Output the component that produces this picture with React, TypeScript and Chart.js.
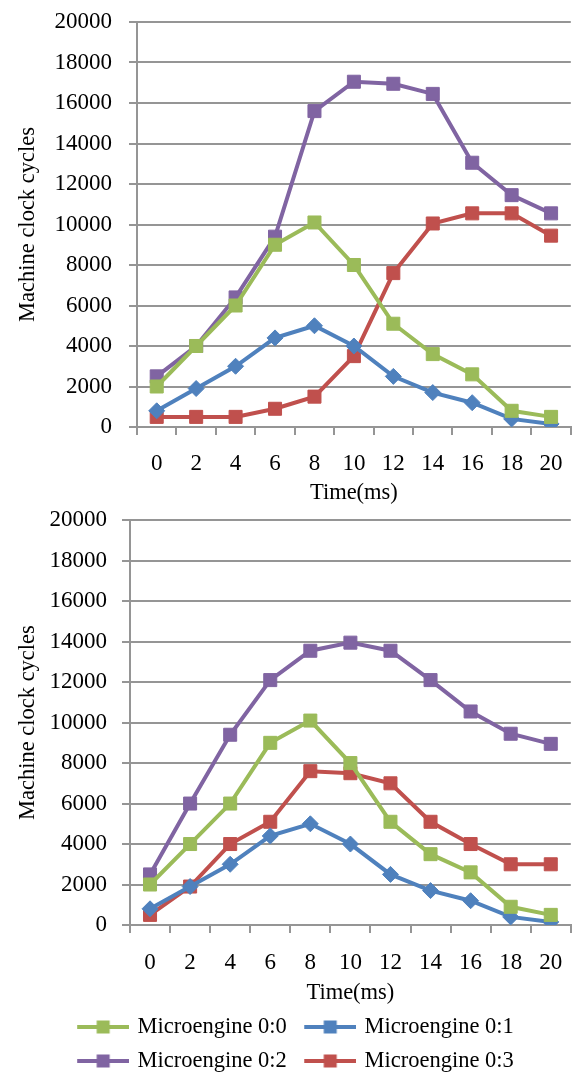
import React, { useEffect, useRef } from 'react';
import { Chart, registerables } from 'chart.js';

Chart.register(...registerables);

const FONT = '"Liberation Serif", "Times New Roman", serif';

// ---- data ----
const TIME_LABELS = ['0', '2', '4', '6', '8', '10', '12', '14', '16', '18', '20'];
const SERIES_NAMES = ['Microengine 0:0', 'Microengine 0:1', 'Microengine 0:2', 'Microengine 0:3'];
const X_TITLE = 'Time(ms)';
const Y_TITLE = 'Machine clock cycles';
const Y_MIN = 0;
const Y_MAX = 20000;
const Y_STEP = 2000;

// top chart
const TOP_ME00 = [2000, 4000, 6000, 9000, 10100, 8000, 5100, 3600, 2600, 800, 500];
const TOP_ME01 = [800, 1900, 3000, 4400, 5000, 4000, 2500, 1700, 1200, 400, 150];
const TOP_ME02 = [2500, 4000, 6400, 9400, 15600, 17050, 16950, 16450, 13050, 11450, 10550];
const TOP_ME03 = [500, 500, 500, 900, 1500, 3500, 7600, 10050, 10550, 10550, 9450];

// bottom chart
const BOT_ME00 = [2000, 4000, 6000, 9000, 10100, 8000, 5100, 3500, 2600, 900, 500];
const BOT_ME01 = [800, 1900, 3000, 4400, 5000, 4000, 2500, 1700, 1200, 400, 150];
const BOT_ME02 = [2500, 6000, 9400, 12100, 13550, 13950, 13550, 12100, 10550, 9450, 8950];
const BOT_ME03 = [500, 1900, 4000, 5100, 7600, 7500, 7000, 5100, 4000, 3000, 3000];

// ---- styles ----
const COLORS = ['#9BBB59', '#4F81BD', '#8064A2', '#C0504D'];
const POINT_STYLES = ['rect', 'rectRot', 'rect', 'rect'];
const POINT_RADII = [9.2, 8, 9.2, 9.2];
const GRID = '#959595';

function makeLegendIcon(color: string) {
  const c = document.createElement('canvas');
  c.width = 61;
  c.height = 16;
  const ctx = c.getContext('2d')!;
  ctx.strokeStyle = color;
  ctx.lineWidth = 4;
  ctx.beginPath();
  ctx.moveTo(9, 8);
  ctx.lineTo(61, 8);
  ctx.stroke();
  ctx.fillStyle = color;
  ctx.fillRect(28.5, 1.5, 13, 13);
  return c;
}

function buildDatasets(series: number[][]) {
  return series.map((data, i) => ({
    label: SERIES_NAMES[i],
    data,
    borderColor: COLORS[i],
    backgroundColor: COLORS[i],
    borderWidth: 4,
    pointStyle: POINT_STYLES[i],
    pointRadius: POINT_RADII[i],
    pointBorderWidth: 1,
    pointBorderColor: COLORS[i],
    pointBackgroundColor: COLORS[i],
    tension: 0,
    fill: false,
  }));
}

const zeroPad = (s: any) => {
  s.paddingTop = 0;
  s.paddingBottom = 0;
  s.paddingLeft = 0;
  s.paddingRight = 0;
};

function buildOptions(cfg: any) {
  return {
    responsive: false,
    animation: false,
    layout: { padding: cfg.layout },
    plugins: {
      tooltip: { enabled: false },
      legend: cfg.legend
        ? {
            display: true,
            position: 'bottom',
            align: 'center',
            labels: {
              usePointStyle: true,
              pointStyleWidth: 55,
              padding: 11.5,
              color: '#000',
              font: { family: FONT, size: 22.5 },
              generateLabels: (chart: any) =>
                chart.data.datasets.map((ds: any, i: number) => ({
                  text: ds.label,
                  pointStyle: cfg.icons[i],
                  fillStyle: ds.borderColor,
                  strokeStyle: ds.borderColor,
                  lineWidth: 0,
                  hidden: false,
                  datasetIndex: i,
                  fontColor: '#000',
                })),
            },
          }
        : { display: false },
    },
    scales: {
      x: {
        type: 'category',
        offset: true,
        grid: {
          offset: true,
          drawOnChartArea: false,
          drawTicks: true,
          tickLength: 8,
          color: GRID,
          lineWidth: 2,
        },
        border: { display: true, color: GRID, width: 2 },
        ticks: {
          color: '#000',
          font: { family: FONT, size: 23 },
          padding: cfg.xTickPad,
          maxRotation: 0,
          autoSkip: false,
        },
        title: {
          display: true,
          text: X_TITLE,
          color: '#000',
          font: { family: FONT, size: 22.5, lineHeight: 1 },
          padding: { top: cfg.xTitleTop, bottom: cfg.xTitleBottom },
        },
        afterFit: zeroPad,
      },
      y: {
        min: Y_MIN,
        max: Y_MAX,
        grid: { color: GRID, lineWidth: 2, tickLength: 8, drawTicks: true },
        border: { display: true, color: GRID, width: 2 },
        ticks: {
          stepSize: Y_STEP,
          color: '#000',
          font: { family: FONT, size: 23 },
          padding: cfg.yTickPad,
          callback: (v: any) => String(v),
        },
        title: {
          display: true,
          text: Y_TITLE,
          color: '#000',
          font: { family: FONT, size: 22.5, lineHeight: 1 },
          padding: { top: cfg.yTitleTop, bottom: cfg.yTitleBottom },
        },
        afterFit: zeroPad,
      },
    },
  };
}

export default function App() {
  const topRef = useRef<HTMLCanvasElement | null>(null);
  const botRef = useRef<HTMLCanvasElement | null>(null);

  useEffect(() => {
    Chart.defaults.font.family = FONT;
    const icons = COLORS.map(makeLegendIcon);

    const c1 = new Chart(topRef.current!, {
      type: 'line',
      data: {
        labels: TIME_LABELS,
        datasets: buildDatasets([TOP_ME00, TOP_ME01, TOP_ME02, TOP_ME03]) as any,
      },
      options: buildOptions({
        layout: { top: 22, left: 0, right: 4, bottom: 0 },
        legend: false,
        xTickPad: 15.2,
        xTitleTop: -11.25,
        xTitleBottom: 5.75,
        yTickPad: 17,
        yTitleTop: 16.75,
        yTitleBottom: -1.75,
      }) as any,
    });

    const c2 = new Chart(botRef.current!, {
      type: 'line',
      data: {
        labels: TIME_LABELS,
        datasets: buildDatasets([BOT_ME00, BOT_ME01, BOT_ME02, BOT_ME03]) as any,
      },
      options: buildOptions({
        layout: { top: 10, left: 14, right: 10, bottom: 0.75 },
        legend: true,
        icons,
        xTickPad: 16.2,
        xTitleTop: -11.25,
        xTitleBottom: 0,
        yTickPad: 15,
        yTitleTop: 2.75,
        yTitleBottom: -4.75,
      }) as any,
    });

    return () => {
      c1.destroy();
      c2.destroy();
    };
  }, []);

  return (
    <div
      style={{
        position: 'absolute',
        left: 0,
        top: 0,
        width: 581,
        height: 1075,
        overflow: 'hidden',
        background: '#fff',
      }}
    >
      <canvas
        ref={topRef}
        width={581}
        height={510}
        style={{ position: 'absolute', left: 0, top: 0, width: 581, height: 510 }}
      />
      <canvas
        ref={botRef}
        width={581}
        height={573}
        style={{ position: 'absolute', left: 0, top: 510, width: 581, height: 573 }}
      />
    </div>
  );
}
